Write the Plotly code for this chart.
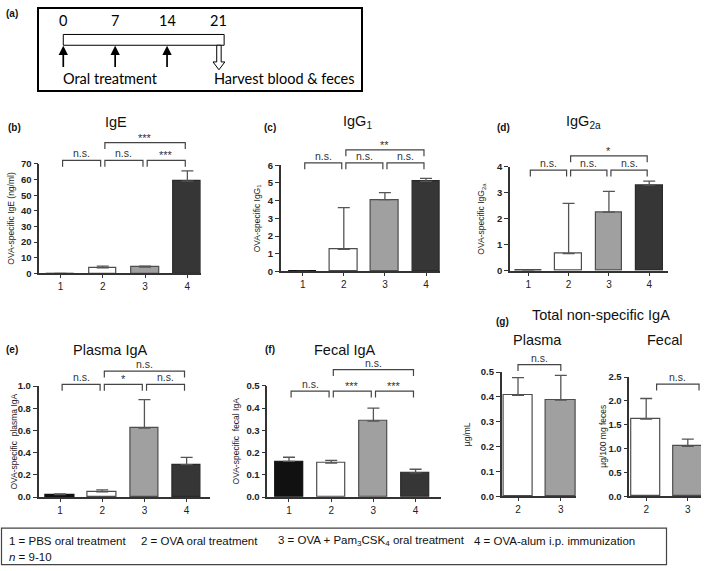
import plotly.graph_objects as go

W, H = 709, 571

# ---------------- data ----------------
groups = [1, 2, 3, 4]
group_fill = {1: "#111111", 2: "#ffffff", 3: "#a0a0a0", 4: "#363636"}
group_line = {1: "#111111", 2: "#4d4d4d", 3: "#4d4d4d", 4: "#2a2a2a"}

ige_mean = [0.0, 3.5, 4.1, 59.0]
ige_err = [0.0, 1.2, 0.5, 6.5]

igg1_mean = [0.0, 1.25, 4.05, 5.08]
igg1_err = [0.0, 2.35, 0.40, 0.18]

igg2a_mean = [0.0, 0.66, 2.25, 3.29]
igg2a_err = [0.0, 1.93, 0.80, 0.15]

plasma_iga_mean = [0.022, 0.047, 0.622, 0.292]
plasma_iga_err = [0.007, 0.018, 0.255, 0.066]

fecal_iga_mean = [0.160, 0.153, 0.341, 0.109]
fecal_iga_err = [0.019, 0.012, 0.059, 0.016]

total_groups = [2, 3]
total_plasma_mean = [0.406, 0.387]
total_plasma_err = [0.072, 0.100]
total_fecal_mean = [1.62, 1.05]
total_fecal_err = [0.43, 0.15]

# significance comparisons: (group a, group b, label, bracket level in y units)
sig_ige = [(1, 2, "n.s.", 72.3), (2, 3, "n.s.", 72.3), (3, 4, "***", 72.3), (2, 4, "***", 83.6)]
sig_igg1 = [(1, 2, "n.s.", 6.13), (2, 3, "n.s.", 6.13), (3, 4, "n.s.", 6.13), (2, 4, "**", 6.86)]
sig_igg2a = [(1, 2, "n.s.", 3.86), (2, 3, "n.s.", 3.86), (3, 4, "n.s.", 3.86), (2, 4, "*", 4.41)]
sig_plasma = [(1, 2, "n.s.", 1.015), (2, 3, "*", 1.015), (3, 4, "n.s.", 1.015), (2, 4, "n.s.", 1.135)]
sig_fecal = [(1, 2, "n.s.", 0.476), (2, 3, "***", 0.476), (3, 4, "***", 0.476), (2, 4, "n.s.", 0.573)]
sig_total_plasma = [(2, 3, "n.s.", 0.53)]
sig_total_fecal = [(2.25, 3.27, "n.s.", 2.35)]

timeline_days = [0, 7, 14, 21]
treatment_days = [0, 7, 14]
harvest_day = 21

legend_items = ["1 = PBS oral treatment", "2 = OVA oral treatment",
                "3 = OVA + Pam<sub>3</sub>CSK<sub>4</sub> oral treatment",
                "4 = OVA-alum i.p. immunization"]

# ---------------- helpers ----------------
FONT = "Liberation Sans"
AX = "#333333"


def fx(p):
    return p / W


def fy(p):
    return 1 - p / H


def sid(n):
    return "" if n == 1 else str(n)


fig = go.Figure()
annotations = []
shapes = []


def bar_panel(n, xs, means, errs, box, xr, yr, yticks, yfmt, bw, sig, ytitle, ytitle_x,
              inset=0.05):
    x0, x1, ytop, ybot = box
    xref, yref = "x" + sid(n), "y" + sid(n)
    fig.add_trace(go.Bar(
        x=xs, y=means, width=bw, xaxis=xref, yaxis=yref,
        marker=dict(color=[group_fill[g] for g in xs],
                    line=dict(color=[group_line[g] for g in xs], width=1.2)),
        error_y=dict(type="data", array=errs, arrayminus=[0] * len(errs),
                     symmetric=False, color="#555555", thickness=1.3, width=6),
        showlegend=False, hoverinfo="skip"))
    fig.update_layout(**{
        "xaxis" + sid(n): dict(domain=[fx(x0), fx(x1)], range=xr, anchor=yref,
                               tickvals=xs, ticktext=[str(g) for g in xs],
                               ticks="outside", ticklen=3, tickwidth=1.2, tickcolor=AX,
                               showline=True, linecolor=AX, linewidth=1.5,
                               showgrid=False, zeroline=False,
                               tickfont=dict(family=FONT, size=10, color="#222")),
        "yaxis" + sid(n): dict(domain=[fy(ybot), fy(ytop)], range=yr, anchor=xref,
                               tickvals=yticks, tickformat=yfmt,
                               ticks="outside", ticklen=4, tickwidth=1.2, tickcolor=AX,
                               showline=True, linecolor=AX, linewidth=1.5,
                               showgrid=False, zeroline=False,
                               tickfont=dict(family=FONT, size=9.5, color="#222", weight="bold")),
    })
    span = yr[1] - yr[0]
    tip = 6.5 / (ybot - ytop)
    for a, b, lab, lev in sig:
        if isinstance(a, int) and isinstance(b, int):
            xa0, xa1 = a + inset, b - inset
        else:
            xa0, xa1 = a, b
        yl = (lev - yr[0]) / span
        shapes.append(dict(type="path", xref=xref, yref=f"{yref} domain",
                           path=f"M {xa0},{yl - tip} L {xa0},{yl} L {xa1},{yl} L {xa1},{yl - tip}",
                           line=dict(color="#444", width=1.2)))
        star = "*" in lab
        annotations.append(dict(xref=xref, yref=f"{yref} domain", x=(xa0 + xa1) / 2, y=yl,
                                xanchor="center", yanchor="bottom", showarrow=False, text=lab,
                                yshift=-3 if star else -1,
                                font=dict(family=FONT, size=11 if star else 10.5, color="#333")))
    annotations.append(dict(xref="paper", yref=f"{yref} domain", x=fx(ytitle_x), y=0.5,
                            xanchor="center", yanchor="middle",
                            textangle=-90, showarrow=False, text=ytitle,
                            font=dict(family=FONT, size=8.5, color="#222")))


def text(px, py, s, size, bold=False, family=FONT, anchor="center"):
    annotations.append(dict(xref="paper", yref="paper", x=fx(px), y=fy(py), text=s,
                            showarrow=False, xanchor=anchor, yanchor="middle",
                            font=dict(family=family, size=size, color="#111",
                                      weight="bold" if bold else "normal")))


def ticks_of(step, count):
    return [round(step * i, 4) for i in range(count + 1)]


# (b) IgE
bar_panel(1, groups, ige_mean, ige_err, (39.3, 200.5, 161, 272.7), [0.5, 4.31], [0, 70],
          ticks_of(10, 7), "d", 0.66, sig_ige, "OVA-specific IgE (ng/ml)", 11)
# (c) IgG1
bar_panel(2, groups, igg1_mean, igg1_err, (280.7, 440, 162.3, 270.7), [0.465, 4.34], [0, 6],
          ticks_of(1, 6), "d", 0.67, sig_igg1, "OVA-specific IgG<sub>1</sub>", 257)
# (d) IgG2a
bar_panel(3, groups, igg2a_mean, igg2a_err, (510, 668, 163.7, 270), [0.546, 4.466], [0, 4],
          ticks_of(1, 4), "d", 0.66, sig_igg2a, "OVA-specific IgG<sub>2a</sub>", 482)
# (e) Plasma IgA
bar_panel(4, groups, plasma_iga_mean, plasma_iga_err, (38.5, 210, 387.5, 500.7), [0.49, 4.554],
          [0, 1.0], ticks_of(0.2, 5), ".1f", 0.68, sig_plasma, "OVA-specific  plasma IgA", 14)
# (f) Fecal IgA
bar_panel(5, groups, fecal_iga_mean, fecal_iga_err, (267.3, 441, 387.3, 500.7), [0.486, 4.602],
          [0, 0.5], ticks_of(0.1, 5), ".1f", 0.67, sig_fecal, "OVA-specific  fecal IgA", 236)
# (g) total plasma
bar_panel(6, total_groups, total_plasma_mean, total_plasma_err, (501.7, 576, 373.3, 500),
          [1.619, 3.355], [0, 0.5], ticks_of(0.1, 5), ".1f", 0.69, sig_total_plasma, "µg/mL", 467,
          inset=0.0)
# (g) total fecal
bar_panel(7, total_groups, total_fecal_mean, total_fecal_err, (629.3, 701, 378.3, 500),
          [1.594, 3.317], [0, 2.5], ticks_of(0.5, 5), ".1f", 0.70, sig_total_fecal,
          "µg/100 mg feces", 603)

# titles & panel letters
text(116, 118.5, "IgE", 14.5)
text(357, 118.5, "IgG<sub>1</sub>", 14.5)
text(583, 118.5, "IgG<sub>2a</sub>", 14.5)
text(110, 350.5, "Plasma IgA", 14.5)
text(345, 350.5, "Fecal IgA", 14.5)
text(601, 315, "Total non-specific IgA", 14.5)
text(537, 340.5, "Plasma", 14.5)
text(664, 340.5, "Fecal", 14.5)
text(12, 8, "(a)", 10, bold=True)
text(14, 123.5, "(b)", 10, bold=True)
text(270, 123.5, "(c)", 10, bold=True)
text(503, 124, "(d)", 10, bold=True)
text(12, 350.5, "(e)", 10, bold=True)
text(270, 350.5, "(f)", 10, bold=True)
text(502, 322, "(g)", 10, bold=True)

# ---------------- (a) schematic on a day axis ----------------
fig.add_trace(go.Scatter(x=[], y=[], xaxis="x8", yaxis="y8", showlegend=False))
fig.update_layout(
    xaxis8=dict(domain=[fx(38), fx(362)], range=[-3.41, 40.3], visible=False, anchor="y8"),
    yaxis8=dict(domain=[fy(86.7), fy(2)], range=[0, 1], visible=False, anchor="x8"),
)
shapes.append(dict(type="rect", xref="x8 domain", yref="y8 domain", x0=0, x1=1, y0=0, y1=1,
                   line=dict(color="#000", width=2)))
shapes.append(dict(type="rect", xref="x8", yref="y8", x0=timeline_days[0], x1=timeline_days[-1] + 0.7,
                   y0=0.551, y1=0.681, line=dict(color="#000", width=1)))
ASF = "Lato"
for d in timeline_days:
    annotations.append(dict(xref="x8", yref="y8", x=d, y=0.846, text=str(d), showarrow=False,
                            xanchor="center",
                            font=dict(family=ASF, size=14.5, color="#000")))
for d in treatment_days:
    annotations.append(dict(xref="x8", yref="y8", x=d, y=0.545, ax=d, ay=0.27,
                            axref="x8", ayref="y8", text="", showarrow=True,
                            arrowhead=2, arrowsize=1.1, arrowwidth=1.7, arrowcolor="#000"))
h = harvest_day
shapes.append(dict(type="path", xref="x8", yref="y8",
                   path=(f"M {h-0.3},0.551 L {h-0.3},0.35 L {h-0.8},0.35 L {h},0.256 "
                         f"L {h+0.8},0.35 L {h+0.3},0.35 L {h+0.3},0.551 Z"),
                   fillcolor="#fff", line=dict(color="#000", width=1)))
annotations.append(dict(xref="x8", yref="y8", x=treatment_days[0], y=0.15, xanchor="left",
                        xshift=-2, text="Oral treatment", showarrow=False,
                        font=dict(family=ASF, size=14.5, color="#000")))
annotations.append(dict(xref="x8", yref="y8", x=harvest_day, y=0.15, xanchor="left",
                        xshift=-7, text="Harvest blood &amp; feces", showarrow=False,
                        font=dict(family=ASF, size=14.5, color="#000")))

# ---------------- bottom legend box ----------------
shapes.append(dict(type="rect", xref="paper", yref="paper", x0=fx(1.5), x1=fx(666.5),
                   y0=fy(569.5), y1=fy(532.3), line=dict(color="#444", width=1.2)))
for xp, s in zip([6.5, 139.3, 276, 472], legend_items):
    text(xp, 545, s, 11.5, anchor="left")
text(6.5, 562.3, "<i>n</i> = 9-10", 11.5, anchor="left")

fig.update_layout(width=W, height=H, margin=dict(l=0, r=0, t=0, b=0),
                  paper_bgcolor="white", plot_bgcolor="rgba(0,0,0,0)",
                  showlegend=False, bargap=0, shapes=shapes, annotations=annotations,
                  font=dict(family=FONT, color="#222"))

fig.write_html("out.html", config={"displayModeBar": False},
               post_script="document.body.style.margin='0';document.body.style.overflow='hidden';")
